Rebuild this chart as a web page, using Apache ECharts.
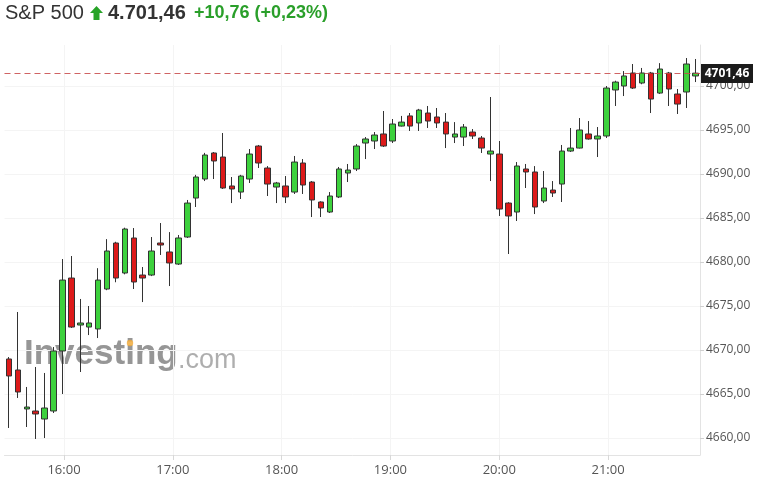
<!DOCTYPE html>
<html><head><meta charset="utf-8">
<script src="https://cdn.jsdelivr.net/npm/echarts@6/dist/echarts.min.js"></script>
<style>html,body{margin:0;padding:0;background:#fff}#c{width:770px;height:491px}</style>
</head><body><div id="c"></div>
<script>
const times = ['15:30','15:35','15:40','15:45','15:50','15:55','16:00','16:05','16:10','16:15','16:20','16:25','16:30','16:35','16:40','16:45','16:50','16:55',
'17:00','17:05','17:10','17:15','17:20','17:25','17:30','17:35','17:40','17:45','17:50','17:55','18:00','18:05','18:10','18:15','18:20','18:25','18:30','18:35','18:40','18:45','18:50','18:55',
'19:00','19:05','19:10','19:15','19:20','19:25','19:30','19:35','19:40','19:45','19:50','19:55','20:00','20:05','20:10','20:15','20:20','20:25','20:30','20:35','20:40','20:45','20:50','20:55',
'21:00','21:05','21:10','21:15','21:20','21:25','21:30','21:35','21:40','21:45','21:50','21:55'];
const opens  = [4668.98,4667.73,4663.30,4663.07,4662.16,4663.07,4669.89,4678.18,4672.84,4672.61,4672.39,4676.93,4682.16,4678.75,4682.73,4678.52,4678.52,4682.16,4681.14,4679.77,
4682.84,4687.27,4689.43,4692.39,4691.93,4688.64,4687.95,4689.43,4693.18,4690.68,4688.52,4688.64,4687.95,4691.25,4689.09,4686.82,4685.68,4687.39,4690.11,4690.57,
4693.52,4693.75,4694.55,4693.75,4695.45,4696.60,4695.80,4696.93,4696.48,4695.90,4694.20,4694.20,4694.77,4694.09,4692.27,4692.27,4686.70,4685.68,4690.57,4690.23,
4686.93,4688.18,4688.86,4692.61,4692.95,4694.55,4693.98,4694.32,4699.55,4700.00,4701.48,4700.34,4701.48,4699.20,4701.48,4699.09,4699.32,4701.14];
const closes = [4667.05,4665.23,4663.52,4662.73,4663.41,4669.89,4677.95,4672.61,4673.07,4673.07,4677.95,4681.25,4678.18,4683.75,4677.73,4678.18,4681.25,4681.93,4679.89,4682.73,
4686.70,4689.66,4692.16,4691.48,4688.41,4688.30,4689.77,4692.27,4691.25,4688.86,4688.98,4687.39,4691.36,4688.75,4687.05,4686.14,4687.50,4690.57,4690.45,4693.18,
4693.98,4694.43,4693.18,4695.68,4695.90,4695.45,4697.27,4696.02,4695.80,4694.55,4694.55,4695.34,4694.32,4692.95,4692.61,4686.02,4685.23,4690.91,4690.23,4686.25,
4688.41,4687.84,4692.61,4692.95,4695.00,4693.98,4694.32,4699.77,4700.45,4701.14,4699.77,4701.48,4698.52,4701.93,4699.66,4697.95,4702.50,4701.46];
const lows   = [4661.14,4664.55,4661.25,4659.89,4660.00,4662.84,4665.00,4672.50,4667.50,4671.70,4671.36,4676.80,4677.70,4678.60,4676.93,4675.45,4678.40,4680.80,4677.27,4679.66,
4682.73,4686.25,4689.20,4689.43,4688.30,4686.70,4687.16,4688.98,4690.68,4687.50,4686.70,4686.70,4687.73,4687.73,4685.11,4685.11,4685.57,4687.27,4689.09,4690.34,
4691.70,4692.84,4693.07,4693.52,4695.40,4694.89,4694.89,4695.23,4695.23,4692.95,4693.52,4693.18,4693.98,4692.39,4689.20,4685.23,4680.91,4684.66,4688.41,4685.45,
4686.70,4687.39,4686.82,4692.50,4692.90,4693.90,4691.93,4694.09,4697.73,4698.86,4699.66,4700.20,4696.93,4699.10,4697.73,4696.82,4697.50,4700.45];
const highs  = [4669.20,4674.32,4665.80,4668.07,4667.39,4670.34,4680.34,4680.68,4675.80,4675.00,4679.30,4682.60,4682.30,4683.90,4683.86,4679.43,4682.84,4684.43,4683.40,4683.07,
4687.05,4689.90,4692.40,4692.50,4694.66,4689.66,4689.90,4692.84,4693.30,4690.90,4689.10,4689.77,4692.05,4691.70,4689.20,4686.90,4687.95,4690.80,4691.14,4693.40,
4694.20,4694.77,4697.16,4696.25,4696.60,4696.93,4697.40,4697.73,4697.50,4696.93,4695.90,4695.68,4695.11,4694.32,4698.75,4693.75,4686.80,4691.36,4691.14,4690.90,
4690.34,4689.20,4693.30,4695.23,4696.36,4696.02,4695.34,4700.00,4700.60,4701.70,4702.50,4702.05,4701.60,4702.60,4701.60,4699.66,4703.18,4703.07];
const xTickLabels = ['16:00','17:00','18:00','19:00','20:00','21:00'];
const yTicks = [4660,4665,4670,4675,4680,4685,4690,4695,4700];
const lastPrice = 4701.46;

const toMin = s => { const p = s.split(':'); return (+p[0]) * 60 + (+p[1]); };
const candles = times.map((t, i) => [opens[i], closes[i], lows[i], highs[i]]);
const fmt = v => v.toFixed(2).replace('.', ',');

const staticGraphics = [
  {type: 'text', left: 5, top: 3, z: 10, style: {text: 'S&P 500', font: '20px "Liberation Sans"', fill: '#333'}},
  {type: 'polygon', z: 10, shape: {points: [[96.5,6],[103,13],[99.5,13],[99.5,20],[93.5,20],[93.5,13],[90,13]]}, style: {fill: '#27a327'}},
  {type: 'text', left: 108, top: 3, z: 10, style: {text: '4.701,46', font: 'bold 20px "Liberation Sans"', fill: '#333'}},
  {type: 'text', left: 194, top: 4, z: 10, style: {text: '+10,76 (+0,23%)', font: 'bold 18px "Liberation Sans"', fill: '#2a9f2a'}},
  {type: 'text', left: 24, top: 337, z: 0, style: {text: 'Investing', font: 'bold 35px "Liberation Sans"', fill: 'rgba(115,115,115,0.75)'}},
  {type: 'text', left: 178, top: 347, z: 0, style: {text: '.com', font: '27px "Liberation Sans"', fill: 'rgba(120,120,120,0.6)'}},
  {type: 'circle', z: 0, shape: {cx: 130, cy: 343, r: 3.2}, style: {fill: 'rgba(240,170,60,0.85)'}}
];

const chart = echarts.init(document.getElementById('c'), null, {renderer: 'canvas'});
chart.setOption({
  animation: false,
  backgroundColor: '#fff',
  grid: {left: 4.5, right: 70, top: 45, bottom: 36},
  xAxis: [{
    type: 'category', data: times, boundaryGap: true,
    axisLine: {lineStyle: {color: '#e3e3e3'}},
    axisTick: {show: false}, axisLabel: {show: false}, splitLine: {show: false}
  }, {
    type: 'value', position: 'bottom', min: 927.2, max: 1310.7,
    axisLine: {show: false},
    axisTick: {show: true, length: 5, lineStyle: {color: '#d8d8d8'}, customValues: xTickLabels.map(toMin)},
    axisLabel: {customValues: xTickLabels.map(toMin), color: '#555', fontFamily: 'Open Sans', fontSize: 13, margin: 9,
      formatter: v => xTickLabels[xTickLabels.map(toMin).indexOf(v)] || ''},
    splitLine: {show: true, lineStyle: {color: '#f4f4f4'}}
  }],
  yAxis: {
    type: 'value', position: 'right', min: 4658.07, max: 4704.66, scale: true,
    axisLine: {show: true, lineStyle: {color: '#e3e3e3'}},
    axisTick: {show: true, length: 4, lineStyle: {color: '#d0d0d0'}, customValues: yTicks},
    axisLabel: {customValues: yTicks, color: '#555', fontFamily: 'Open Sans', fontSize: 12, margin: 6, formatter: v => fmt(v)},
    splitLine: {show: true, lineStyle: {color: '#f4f4f4'}}
  },
  graphic: staticGraphics,
  series: [{
    type: 'candlestick', data: candles, barWidth: 6, z: 3,
    itemStyle: {color: '#3dd13d', color0: '#dd1a1a', borderColor: '#333', borderColor0: '#333', borderWidth: 1}
  }]
});

// last-price line and tag, positioned through the chart's own y scale
const py = Math.round(chart.convertToPixel({yAxisIndex: 0}, lastPrice)) + 0.5;
const rect = chart.getModel().getComponent('grid').coordinateSystem.getRect();
chart.setOption({
  graphic: staticGraphics.concat([
    {type: 'line', z: 5, shape: {x1: rect.x, y1: py, x2: rect.x + rect.width, y2: py},
      style: {stroke: '#c84848', lineWidth: 1, lineDash: [6, 4], opacity: 0.85}},
    {type: 'rect', z: 6, shape: {x: rect.x + rect.width + 1, y: py - 9.5, width: 52, height: 19}, style: {fill: '#1b1b1b'}},
    {type: 'text', z: 7, x: rect.x + rect.width + 27, y: py, style: {text: fmt(lastPrice), fill: '#fff',
      font: 'bold 12px "Open Sans"', align: 'center', verticalAlign: 'middle'}}
  ])
});
</script></body></html>
